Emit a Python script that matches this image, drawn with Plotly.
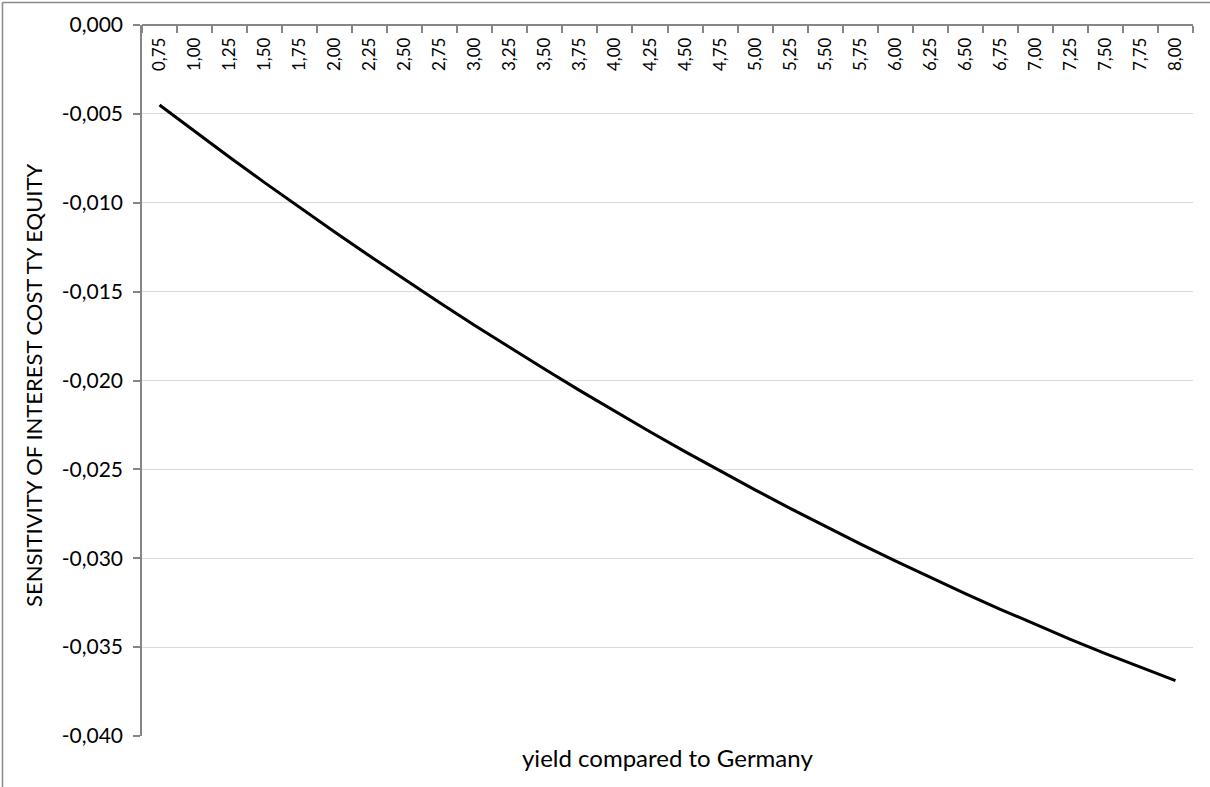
import plotly.graph_objects as go

# Data
categories = ["0,75", "1,00", "1,25", "1,50", "1,75", "2,00", "2,25", "2,50", "2,75", "3,00",
              "3,25", "3,50", "3,75", "4,00", "4,25", "4,50", "4,75", "5,00", "5,25", "5,50",
              "5,75", "6,00", "6,25", "6,50", "6,75", "7,00", "7,25", "7,50", "7,75", "8,00"]
sensitivity = [-0.00450, -0.00598, -0.00744, -0.00887, -0.01027, -0.01165, -0.01300, -0.01433,
               -0.01563, -0.01690, -0.01815, -0.01937, -0.02057, -0.02174, -0.02288, -0.02400,
               -0.02509, -0.02615, -0.02719, -0.02820, -0.02919, -0.03015, -0.03108, -0.03199,
               -0.03287, -0.03373, -0.03456, -0.03536, -0.03614, -0.03689]
y_tick_vals = [0.0, -0.005, -0.010, -0.015, -0.020, -0.025, -0.030, -0.035, -0.040]
y_tick_labels = ["0,000", "-0,005", "-0,010", "-0,015", "-0,020", "-0,025", "-0,030", "-0,035", "-0,040"]

W, H = 1210, 787
L, R, T, B = 142, 17, 25, 51
PW, PH = W - L - R, H - T - B
FONT = "Lato"

fig = go.Figure()
fig.add_trace(go.Scatter(
    x=categories, y=sensitivity, mode="lines",
    line=dict(color="black", width=3),
    hoverinfo="x+y", showlegend=False,
))

fig.update_layout(
    width=W, height=H,
    margin=dict(l=L, r=R, t=T, b=B),
    paper_bgcolor="white", plot_bgcolor="white",
    font=dict(family=FONT, color="black"),
    xaxis=dict(
        type="category",
        anchor="free", position=1, side="bottom",
        showline=True, linecolor="#868686", linewidth=1.5,
        ticks="outside", ticklen=7, tickcolor="#868686", tickwidth=1.5,
        tickson="boundaries",
        tickangle=-90,
        ticklabelstandoff=5,
        tickfont=dict(family=FONT, size=17, color="black"),
        showgrid=False, zeroline=False,
        range=[-0.5, len(categories) - 0.5],
    ),
    yaxis=dict(
        range=[-0.040, 0.0],
        tickvals=y_tick_vals, ticktext=y_tick_labels,
        showline=True, linecolor="#868686", linewidth=1.5,
        ticks="outside", ticklen=7, tickcolor="#868686", tickwidth=1.5,
        ticklabelstandoff=6,
        tickfont=dict(family=FONT, size=21, color="black"),
        showgrid=True, gridcolor="#d9d9d9", gridwidth=1.2,
        zeroline=False,
    ),
    annotations=[
        dict(text="SENSITIVITY OF INTEREST COST TY EQUITY", textangle=-90,
             xref="paper", yref="paper", x=(33 - L) / PW, y=(H - B - 386) / PH,
             xanchor="center", yanchor="middle", showarrow=False,
             font=dict(family=FONT, size=22, color="black")),
        dict(text="yield compared to Germany",
             xref="paper", yref="paper", x=0.5, y=(H - B - 758) / PH,
             xanchor="center", yanchor="middle", showarrow=False,
             font=dict(family=FONT, size=24, color="black")),
    ],
    shapes=[
        dict(type="line", xref="paper", yref="paper",
             x0=(2.5 - L) / PW, x1=(2.5 - L) / PW,
             y0=(H - B - 787) / PH, y1=(H - B - 2.5) / PH,
             line=dict(color="#898989", width=1.5)),
        dict(type="line", xref="paper", yref="paper",
             x0=(2.5 - L) / PW, x1=(1210 - L) / PW,
             y0=(H - B - 2.5) / PH, y1=(H - B - 2.5) / PH,
             line=dict(color="#898989", width=1.5)),
    ],
)

fig.write_html("out.html", config={"displayModeBar": False},
               post_script="document.body.style.margin='0';document.body.style.overflow='hidden';")
